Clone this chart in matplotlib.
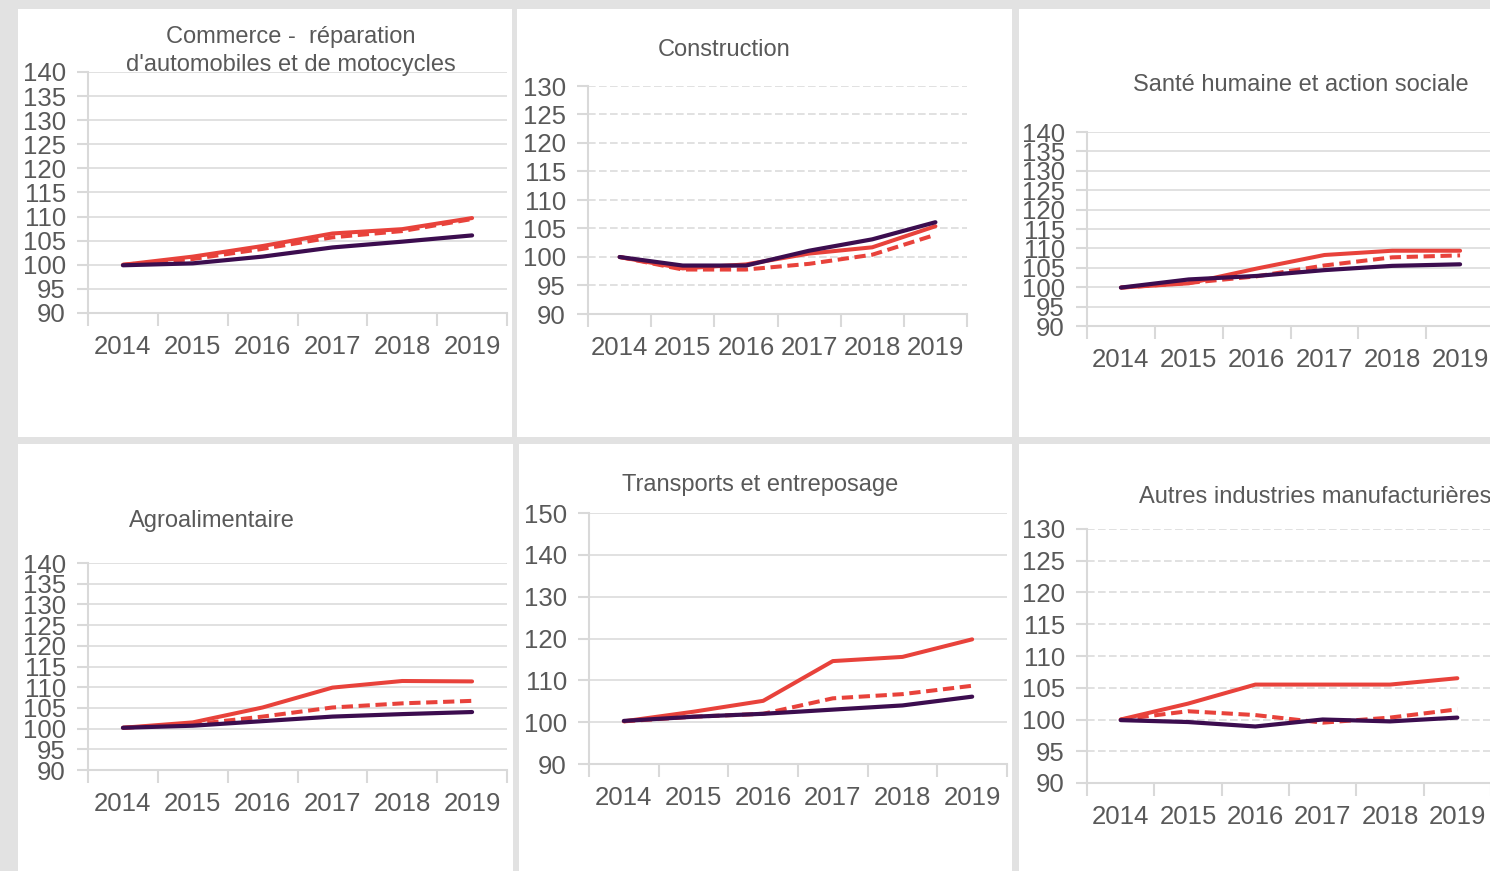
import matplotlib
matplotlib.use("Agg")
import matplotlib.pyplot as plt
from matplotlib.ticker import FixedLocator, NullFormatter

plt.rcParams['font.family'] = ['Liberation Sans', 'DejaVu Sans']

years = ["2014", "2015", "2016", "2017", "2018", "2019"]

# Commerce - réparation d'automobiles et de motocycles
commerce_red = [100.0, 101.7, 103.9, 106.5, 107.4, 109.7]
commerce_dash = [100.0, 101.2, 103.3, 105.7, 107.0, 109.5]
commerce_purple = [99.9, 100.3, 101.7, 103.6, 104.8, 106.1]

# Construction
construction_red = [100.0, 98.0, 98.7, 100.6, 101.7, 105.4]
construction_dash = [100.0, 97.8, 97.8, 98.8, 100.4, 103.9]
construction_purple = [100.0, 98.5, 98.5, 101.1, 103.1, 106.1]

# Santé humaine et action sociale
sante_red = [99.9, 101.0, 104.8, 108.3, 109.4, 109.4]
sante_dash = [99.9, 101.1, 102.8, 105.6, 107.7, 108.2]
sante_purple = [99.9, 102.0, 102.9, 104.4, 105.5, 105.9]

# Agroalimentaire
agro_red = [100.2, 101.5, 105.1, 109.9, 111.5, 111.4]
agro_dash = [100.2, 101.0, 102.9, 105.1, 106.1, 106.7]
agro_purple = [100.2, 100.7, 101.8, 102.9, 103.5, 104.0]

# Transports et entreposage
transports_red = [100.2, 102.5, 105.1, 114.6, 115.6, 119.8]
transports_dash = [100.2, 101.3, 102.0, 105.7, 106.7, 108.7]
transports_purple = [100.3, 101.3, 102.0, 103.0, 104.0, 106.1]

# Autres industries manufacturières
autres_red = [100.0, 102.5, 105.5, 105.5, 105.5, 106.5]
autres_dash = [100.0, 101.3, 100.7, 99.5, 100.3, 101.6]
autres_purple = [99.9, 99.6, 98.9, 100.0, 99.7, 100.3]

titles = [
    "Commerce -  réparation\nd'automobiles et de motocycles",
    "Construction",
    "Santé humaine et action sociale",
    "Agroalimentaire",
    "Transports et entreposage",
    "Autres industries manufacturières",
]

W, H = 1490, 871
RED = '#e8423b'
PURPLE = '#3c0d4f'
GRID = '#d9d9d9'
TXT = '#595959'
BG = '#e2e2e2'

fig = plt.figure(figsize=(W / 100, H / 100), dpi=100, facecolor=BG)

# white panel backgrounds (pixel boxes: x0, y0, x1, y1)
panels = [(18, 9, 512, 437), (517, 9, 1012, 437), (1019, 9, 1500, 437),
          (18, 444, 513, 880), (519, 444, 1012, 880), (1019, 444, 1500, 880)]
for (x0, y0, x1, y1) in panels:
    fig.patches.append(plt.Rectangle((x0 / W, 1 - y1 / H), (x1 - x0) / W, (y1 - y0) / H,
                                     transform=fig.transFigure, facecolor='white',
                                     edgecolor='none', zorder=-10))

# axes boxes in pixels: x_left, x_right, y_top, y_bottom
boxes = [(88, 507, 72, 313), (588, 967, 86, 314), (1087, 1494, 132, 326),
         (88, 507, 563, 770), (589, 1007, 513, 764), (1087, 1491, 529, 783)]
ylims = [(90, 140, 5), (90, 130, 5), (90, 140, 5), (90, 140, 5), (90, 150, 10), (90, 130, 5)]
dashed_grid = [False, True, False, False, False, True]
data = [
    (commerce_red, commerce_dash, commerce_purple),
    (construction_red, construction_dash, construction_purple),
    (sante_red, sante_dash, sante_purple),
    (agro_red, agro_dash, agro_purple),
    (transports_red, transports_dash, transports_purple),
    (autres_red, autres_dash, autres_purple),
]
title_pos = [(291, 51), (724, 50), (1301, 85), (212, 521), (760, 485), (1315, 497)]

x = list(range(len(years)))
for i in range(6):
    xl, xr, yt, yb = boxes[i]
    ax = fig.add_axes([xl / W, 1 - yb / H, (xr - xl) / W, (yb - yt) / H], zorder=5)
    ax.set_facecolor('none')
    lo, hi, step = ylims[i]
    ax.set_ylim(lo, hi)
    ax.set_xlim(-0.5, len(years) - 0.5)
    ax.set_yticks(list(range(lo, hi + 1, step)))
    ax.tick_params(axis='y', length=8, color=GRID, width=1.5, labelsize=18.5,
                   labelcolor=TXT, pad=8)
    ax.xaxis.set_major_locator(FixedLocator([k - 0.5 for k in range(len(years) + 1)]))
    ax.xaxis.set_major_formatter(NullFormatter())
    ax.xaxis.set_minor_locator(FixedLocator(x))
    ax.set_xticklabels(years, minor=True)
    ax.tick_params(axis='x', which='major', length=9, color=GRID, width=1.5)
    ax.tick_params(axis='x', which='minor', length=0, labelsize=18.5, labelcolor=TXT, pad=16)
    for s in ['top', 'right']:
        ax.spines[s].set_visible(False)
    for s in ['left', 'bottom']:
        ax.spines[s].set_color(GRID)
        ax.spines[s].set_linewidth(1.5)
    if dashed_grid[i]:
        ax.yaxis.grid(True, color=GRID, linewidth=1.1, linestyle=(0, (5, 2.2)))
    else:
        ax.yaxis.grid(True, color=GRID, linewidth=1.1)
    ax.set_axisbelow(True)
    r, d, p = data[i]
    ax.plot(x, r, color=RED, lw=2.9, solid_capstyle='round', zorder=3)
    ax.plot(x, d, color=RED, lw=2.9, linestyle=(0, (2.8, 1.4)), dash_capstyle='butt', zorder=3)
    ax.plot(x, p, color=PURPLE, lw=3.0, solid_capstyle='round', zorder=4)
    tx, ty = title_pos[i]
    fig.text(tx / W, 1 - ty / H, titles[i], ha='center', va='center', fontsize=17,
             color=TXT, linespacing=1.3, zorder=6)

fig.savefig('out.png', dpi=100, facecolor=BG)
